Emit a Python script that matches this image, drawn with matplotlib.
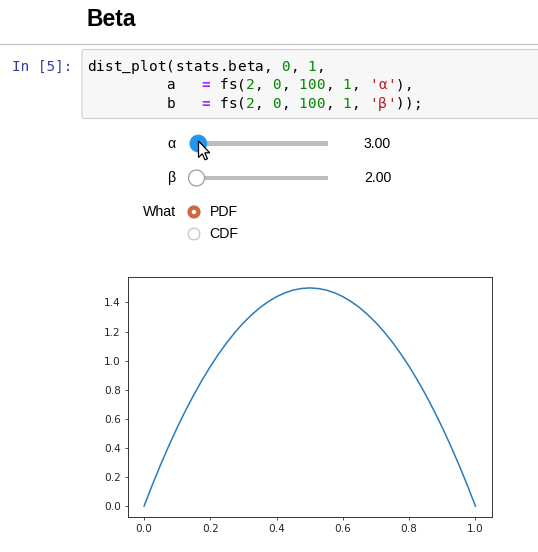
import numpy as np
import matplotlib.pyplot as plt
from matplotlib.patches import Circle, FancyBboxPatch, Polygon, Rectangle

# curve (beta pdf shown in the output)
x_vals = [0.0, 0.025, 0.05, 0.075, 0.1, 0.125, 0.15, 0.175, 0.2, 0.225,
          0.25, 0.275, 0.3, 0.325, 0.35, 0.375, 0.4, 0.425, 0.45, 0.475,
          0.5, 0.525, 0.55, 0.575, 0.6, 0.625, 0.65, 0.675, 0.7, 0.725,
          0.75, 0.775, 0.8, 0.825, 0.85, 0.875, 0.9, 0.925, 0.95, 0.975, 1.0]
pdf_vals = [0.0, 0.146, 0.285, 0.416, 0.54, 0.656, 0.765, 0.866, 0.96, 1.046,
            1.125, 1.196, 1.26, 1.316, 1.365, 1.406, 1.44, 1.466, 1.485, 1.496,
            1.5, 1.496, 1.485, 1.466, 1.44, 1.406, 1.365, 1.316, 1.26, 1.196,
            1.125, 1.046, 0.96, 0.866, 0.765, 0.656, 0.54, 0.416, 0.285, 0.146, 0.0]

slider_labels = ["α", "β"]
slider_values = ["3.00", "2.00"]
radio_labels = ["PDF", "CDF"]

BLACK = "#000000"
NUM = "#008800"
OP = "#AA22FF"
STR = "#BA2121"
code_lines = [
    [("dist_plot(stats.beta, ", BLACK), ("0", NUM), (", ", BLACK), ("1", NUM), (",", BLACK)],
    [("         a   ", BLACK), ("=", OP), (" fs(", BLACK), ("2", NUM), (", ", BLACK), ("0", NUM),
     (", ", BLACK), ("100", NUM), (", ", BLACK), ("1", NUM), (", ", BLACK), ("'α'", STR), ("),", BLACK)],
    [("         b   ", BLACK), ("=", OP), (" fs(", BLACK), ("2", NUM), (", ", BLACK), ("0", NUM),
     (", ", BLACK), ("100", NUM), (", ", BLACK), ("1", NUM), (", ", BLACK), ("'β'", STR), ("));", BLACK)],
]

fig = plt.figure(figsize=(5.38, 5.52), dpi=100)

# page layer in pixel units
ui = fig.add_axes([0, 0, 1, 1], zorder=0)
ui.set_xlim(0, 538)
ui.set_ylim(552, 0)
ui.axis("off")

sans = "Liberation Sans"
mono = "DejaVu Sans Mono"

ui.text(87, 26, "Beta", fontsize=16.5, fontweight="bold", family=sans, va="baseline")
ui.plot([0, 538], [43.5, 43.5], color="#c0c0c0", lw=0.9)

ui.add_patch(FancyBboxPatch((82, 49.5), 470, 69, boxstyle="round,pad=0,rounding_size=2",
                            facecolor="#f7f7f7", edgecolor="#cfcfcf", lw=0.8))
ui.text(12, 71, "In [5]:", fontsize=10.4, family=mono, color="#303F9F", va="baseline")

cw = 8.82
baselines = [71, 89.3, 107.6]
for line, yb in zip(code_lines, baselines):
    col = 0
    for txt, c in line:
        for ch in txt:
            if ch != " ":
                ui.text(87 + col * cw, yb, ch, fontsize=10.4, family=mono, color=c,
                        va="baseline", ha="left",
                        fontweight="bold" if c == OP else "normal")
            col += 1

# sliders
slider_y = [143.5, 178]
handle_x = [198.3, 196.5]
for lab, val, y, hx, i in zip(slider_labels, slider_values, slider_y, handle_x, range(2)):
    ui.text(176, y, lab, fontsize=10.2, family=sans, ha="right", va="center")
    ui.add_patch(Rectangle((hx, y - 2.3), 328 - hx, 4.6, facecolor="#bdbdbd", edgecolor="none"))
    if i == 0:
        ui.add_patch(Circle((hx, y), 8.3, facecolor="#2196F3", edgecolor="#2196F3", lw=0.8, zorder=3))
    else:
        ui.add_patch(Circle((hx, y), 8.0, facecolor="white", edgecolor="#9e9e9e", lw=0.9, zorder=3))
    ui.text(364, y, val, fontsize=10.2, family=sans, ha="left", va="center")

# mouse pointer
tip = np.array([198.5, 141.0])
shape = np.array([[0, 0], [0, 16.5], [3.8, 12.8], [6.5, 18.8], [9.0, 17.7],
                  [6.3, 11.8], [11.2, 11.8]])
ui.add_patch(Polygon(tip + shape, closed=True, facecolor="white", edgecolor="black",
                     lw=0.9, zorder=5))

# radio buttons
ui.text(176.5, 212, "What", fontsize=10.2, family=sans, ha="right", va="center")
radio_y = [212, 234]
for j, (lab, y) in enumerate(zip(radio_labels, radio_y)):
    if j == 0:
        ui.add_patch(Circle((194, y), 6.0, facecolor="#cf6a3e", edgecolor="#c2643a", lw=0.8))
        ui.add_patch(Circle((194, y), 2.2, facecolor="white", edgecolor="none"))
    else:
        ui.add_patch(Circle((194, y), 5.8, facecolor="white", edgecolor="#c4c4c4", lw=0.9))
    ui.text(209.5, y, lab, fontsize=10.2, family=sans, ha="left", va="center")

# the plot output
ax = fig.add_axes([127.5 / 538, 1 - 517 / 552, 364.5 / 538, 240 / 552], zorder=1)
ax.plot(x_vals, pdf_vals, color="#2b7bba", lw=1.1)
ax.set_xticks([0.0, 0.2, 0.4, 0.6, 0.8, 1.0])
ax.set_yticks([0.0, 0.2, 0.4, 0.6, 0.8, 1.0, 1.2, 1.4])
ax.tick_params(labelsize=7.6, length=2.4, width=0.6, pad=2.5,
               colors="#333333", labelcolor="#262626")
for s in ax.spines.values():
    s.set_linewidth(0.7)
    s.set_color("#333333")

fig.savefig("out.png", dpi=100)
